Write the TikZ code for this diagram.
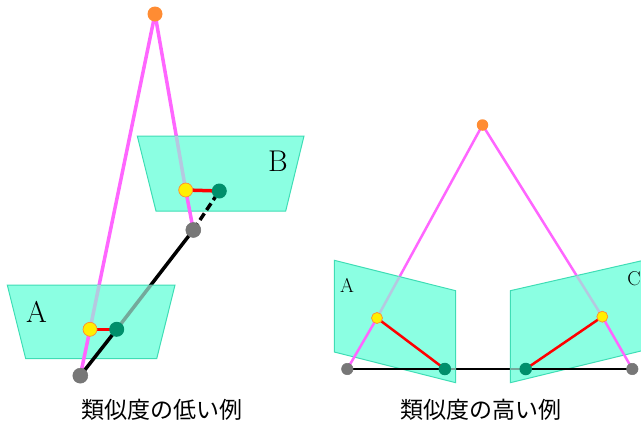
\documentclass[tikz,border=0pt]{standalone}
\usepackage{fontspec}
\newfontfamily\cjk{Noto Sans CJK JP}
\definecolor{planefill}{HTML}{8BFFE2}
\definecolor{planeedge}{HTML}{3FDDB5}
\definecolor{rayc}{HTML}{FF66FF}
\definecolor{rayfade}{HTML}{B5C8E0}
\definecolor{blackfade}{HTML}{74A99B}
\definecolor{dotgreen}{HTML}{008F6B}
\definecolor{dotorange}{HTML}{FF8C33}
\definecolor{dotyellow}{HTML}{FFF000}
\definecolor{dotgray}{HTML}{777777}
\tikzset{
  plane/.style={draw=planeedge,line width=1pt,fill=planefill},
  dot/.style={circle,inner sep=0pt,minimum size=#1},
  apex/.style={dot=#1,fill=dotorange},
  img/.style={dot=#1,fill=dotyellow,draw=dotorange,line width=0.7pt},
  match/.style={dot=#1,fill=dotgreen},
  cam/.style={dot=#1,fill=dotgray,draw=black!55,line width=0.5pt},
  rayb/.style={rayc,line width=3.5pt},
  rays/.style={rayc,line width=2.5pt},
  blackb/.style={black,line width=3.5pt},
  blacks/.style={black,line width=2.5pt},
  redb/.style={red,line width=3.5pt},
  reds/.style={red,line width=2.5pt},
  lab/.style={font=\fontsize{30}{36}\selectfont,inner sep=0pt},
  labs/.style={font=\fontsize{20}{24}\selectfont,inner sep=0pt},
  captext/.style={font=\cjk\fontsize{23}{27}\selectfont,inner sep=0pt}
}
\begin{document}
\begin{tikzpicture}[x=1pt,y=-1pt]
\useasboundingbox (0,0) rectangle (641,426);
\clip (0,0) rectangle (641,426);
% coordinates
\coordinate (ltop) at (155,14);
\coordinate (gA) at (80.3,375.7);
\coordinate (gB) at (193.3,230);
\coordinate (yA) at (90,329.3);
\coordinate (yB) at (185.7,190);
\coordinate (mA) at (116.7,329.3);
\coordinate (mB) at (219.3,191);
\coordinate (rtop) at (482.5,125);
\coordinate (rgA) at (347.3,369);
\coordinate (rgC) at (632.3,369);
\coordinate (ryA) at (377,318);
\coordinate (ryC) at (602.3,316.7);
\coordinate (rmA) at (444.8,369);
\coordinate (rmC) at (525.7,369);
% rays behind the planes
\draw[rayb] (ltop) -- (yA);
\draw[rayb] (ltop) -- (yB);
\draw[blackb] (mA) -- (gB);
\draw[rays] (rtop) -- (ryA);
\draw[rays] (rtop) -- (ryC);
\draw[blacks] (rmA) -- (rmC);
% planes
\path[plane] (7.3,285) -- (175,285) -- (156.7,358.7) -- (25.7,358.7) -- cycle;
\path[plane] (137.3,136) -- (304,136) -- (285.7,211) -- (156,211) -- cycle;
\path[plane] (334.3,260.3) -- (455.7,290.7) -- (455.7,382.7) -- (334.3,352) -- cycle;
\path[plane] (510.3,290.7) -- (645,260) -- (645,350) -- (510.3,382.7) -- cycle;
% the parts of the rays seen through the planes
\begin{scope}
\clip (7.3,285) -- (175,285) -- (156.7,358.7) -- (25.7,358.7) -- cycle;
\draw[rayb,rayfade] (ltop) -- (yA);
\draw[blackb,blackfade] (mA) -- (gB);
\end{scope}
\begin{scope}
\clip (137.3,136) -- (304,136) -- (285.7,211) -- (156,211) -- cycle;
\draw[rayb,rayfade] (ltop) -- (yB);
\end{scope}
\begin{scope}
\clip (334.3,260.3) -- (455.7,290.7) -- (455.7,382.7) -- (334.3,352) -- cycle;
\draw[rays,rayfade] (rtop) -- (ryA);
\draw[blacks,blackfade] (rmA) -- (rmC);
\end{scope}
\begin{scope}
\clip (510.3,290.7) -- (645,260) -- (645,350) -- (510.3,382.7) -- cycle;
\draw[rays,rayfade] (rtop) -- (ryC);
\draw[blacks,blackfade] (rmA) -- (rmC);
\end{scope}
% rays in front of the planes
\draw[rayb] (yA) -- (gA);
\draw[rayb] (yB) -- (gB);
\draw[blackb] (gA) -- (mA);
\draw[blackb,dash pattern=on 8pt off 4pt] (gB) -- (mB);
\draw[redb] (yA) -- (mA);
\draw[redb] (yB) -- (mB);
\draw[rays] (ryA) -- (rgA);
\draw[rays] (ryC) -- (rgC);
\draw[blacks] (rgA) -- (rmA);
\draw[blacks] (rgC) -- (rmC);
\draw[reds] (ryA) -- (rmA);
\draw[reds] (ryC) -- (rmC);
% points
\node[apex=15pt] (n1) at (ltop) {};
\node[img=14pt] (n2) at (yA) {};
\node[img=14pt] (n3) at (yB) {};
\node[match=15pt] (n4) at (mA) {};
\node[match=15pt] (n5) at (mB) {};
\node[cam=15pt] (n6) at (gA) {};
\node[cam=15pt] (n7) at (gB) {};
\node[apex=11.5pt] (n8) at (rtop) {};
\node[img=11pt] (n9) at (ryA) {};
\node[img=11pt] (n10) at (ryC) {};
\node[match=12.5pt] (n11) at (rmA) {};
\node[match=12.5pt] (n12) at (rmC) {};
\node[cam=11.5pt] (n13) at (rgA) {};
\node[cam=11.5pt] (n14) at (rgC) {};
% labels
\node[lab] (la) at (36.5,311.5) {A};
\node[lab] (lb) at (278,161) {B};
\node[labs] (lc) at (347,285) {A};
\node[labs] (ld) at (634,279) {C};
\node[captext] (c1) at (162,410) {類似度の低い例};
\node[captext] (c2) at (481,410) {類似度の高い例};
\end{tikzpicture}
\end{document}
